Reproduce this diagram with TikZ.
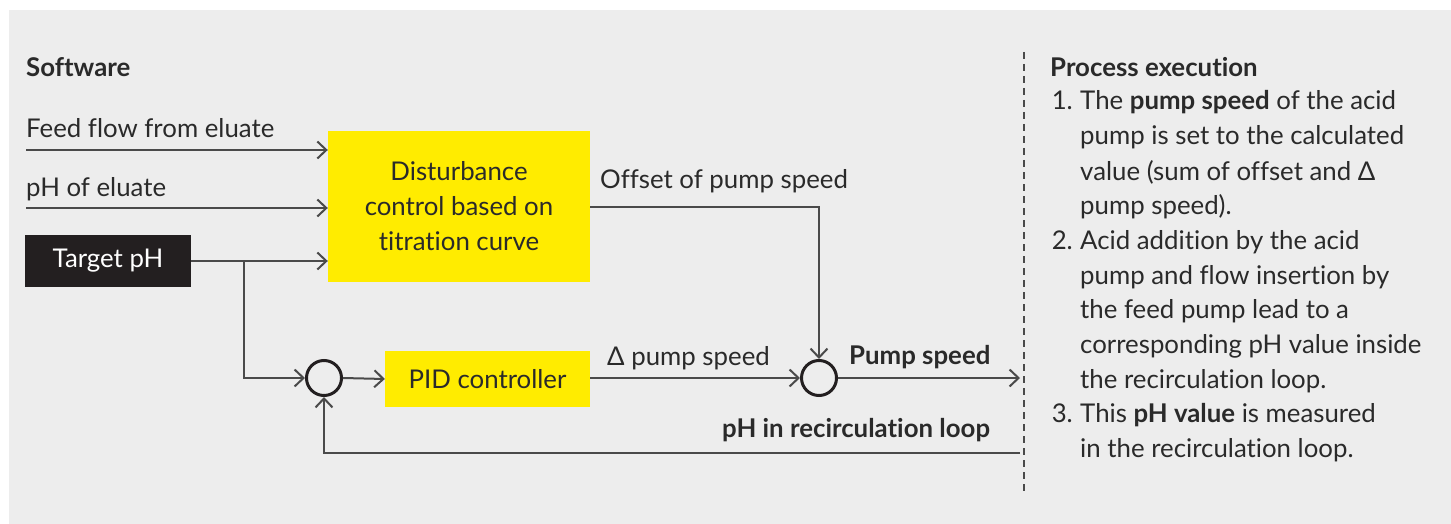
\documentclass[tikz,border=0pt]{standalone}
\usepackage{fontspec}
\setmainfont{Lato}[Ligatures={NoCommon}]
\usetikzlibrary{arrows.meta}
\definecolor{bg}{HTML}{EDEDED}
\definecolor{ink}{HTML}{2A2A2A}
\definecolor{wire}{HTML}{4A4A4A}
\definecolor{yel}{HTML}{FFEC00}
\definecolor{blk}{HTML}{231F20}
\tikzset{
  lbl/.style={anchor=base west, inner sep=0pt, text=ink, font=\fontsize{25.8}{30}\selectfont},
  blbl/.style={lbl, font=\fontsize{25.8}{30}\selectfont\bfseries},
  ybox/.style={fill=yel, draw=none, text=ink, align=center, inner sep=0pt, font=\fontsize{25.8}{35}\selectfont},
  sumnode/.style={circle, draw=blk, line width=3pt, minimum size=35pt, inner sep=0pt},
  wirel/.style={draw=wire, line width=2pt},
  arr/.style={wirel, -{Straight Barb[length=9pt,width=17pt,line width=2pt]}},
}
\begin{document}
\begin{tikzpicture}[x=1pt,y=-1pt]
\useasboundingbox (0,0) rectangle (1451,524);
\fill[bg] (9,10) rectangle (1451,524);
% left labels
\node[blbl] (sw) at (26,77) {Software};
\node[lbl] (ff) at (26,138) {Feed flow from eluate};
\node[lbl] (pe) at (26,196) {pH of eluate};
\coordinate (ffs) at (26,150);
\coordinate (pes) at (26,208);
% boxes
\node[ybox, minimum width=262pt, minimum height=151pt] (dist) at (459,206.5) {Disturbance\\control based on\\titration curve};
\node[fill=blk, text=white, inner sep=0pt, minimum width=166pt, minimum height=52pt, font=\fontsize{25.8}{30}\selectfont] (tgt) at (108,261) {Target pH};
\node[ybox, minimum width=205pt, minimum height=56pt] (pid) at (487.5,379) {PID controller};
\node[sumnode] (c1) at (324,378) {};
\node[sumnode] (c2) at (819,378) {};
\coordinate (br) at (244,261);
\coordinate (out) at (1020,378);
\coordinate (fb) at (1020,453);
% connectors
\draw[arr] (ffs) -- (ffs -| dist.west);
\draw[arr] (pes) -- (pes -| dist.west);
\draw[arr] (tgt.east) -- (tgt.east -| dist.west);
\draw[arr] (br) |- (c1.west);
\draw[arr] (c1.east) -- (pid.west);
\draw[arr] (pid.east |- c2) -- (c2.west);
\draw[arr] (dist.east) -| (c2.north);
\draw[arr] (c2.east) -- (out);
\draw[arr] (fb) -| (c1.south);
% connector labels
\node[lbl] (offl) at (600,189) {Offset of pump speed};
\node[lbl] (dpl) at (607,365) {Δ pump speed};
\node[blbl] (psl) at (849,364) {Pump speed};
\node[blbl] (phl) at (722,437) {pH in recirculation loop};
% divider
\coordinate (dv1) at (1024,52);
\coordinate (dv2) at (1024,491);
\draw[wire, line width=1.6pt, dash pattern=on 7pt off 5pt] (dv1) -- (dv2);
% right text
\node[blbl] (pex) at (1050,77) {Process execution};
\node[lbl, anchor=base east] (n1) at (1073,110) {1.};
\node[lbl] (t1a) at (1080,110) {The \textbf{pump speed} of the acid};
\node[lbl] (t1b) at (1080,145) {pump is set to the calculated};
\node[lbl] (t1c) at (1080,180) {value (sum of offset and Δ};
\node[lbl] (t1d) at (1080,214) {pump speed).};
\node[lbl, anchor=base east] (n2) at (1073,249) {2.};
\node[lbl] (t2a) at (1080,249) {Acid addition by the acid};
\node[lbl] (t2b) at (1080,284) {pump and flow insertion by};
\node[lbl] (t2c) at (1080,318) {the feed pump lead to a};
\node[lbl] (t2d) at (1080,353) {corresponding pH value inside};
\node[lbl] (t2e) at (1080,388) {the recirculation loop.};
\node[lbl, anchor=base east] (n3) at (1073,422) {3.};
\node[lbl] (t3a) at (1080,422) {This \textbf{pH value} is measured};
\node[lbl] (t3b) at (1080,457) {in the recirculation loop.};
\end{tikzpicture}
\end{document}
